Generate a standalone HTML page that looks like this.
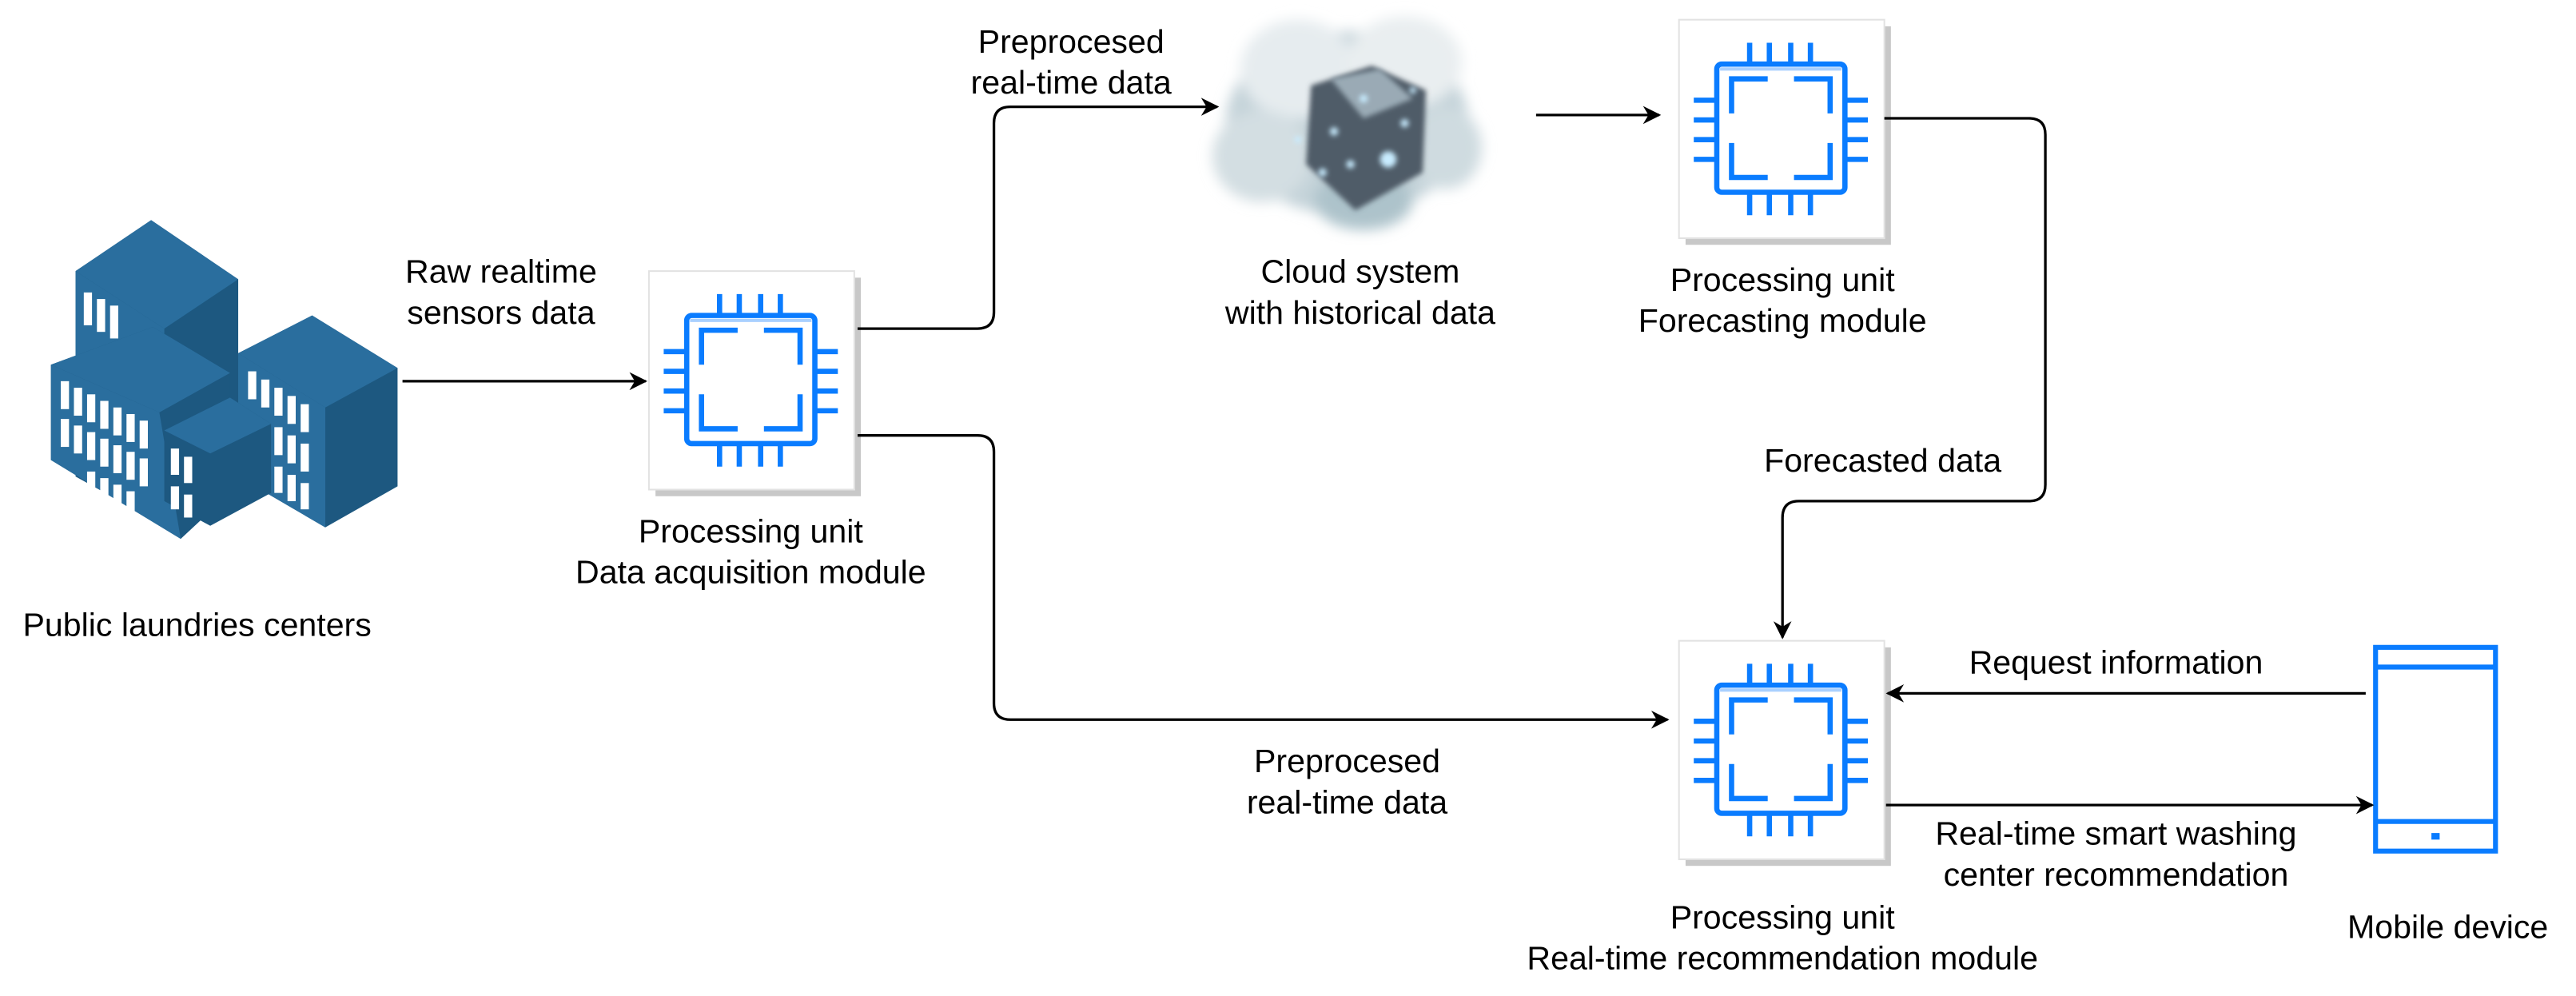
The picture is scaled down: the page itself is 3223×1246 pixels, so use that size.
<!DOCTYPE html>
<html><head><meta charset="utf-8"><style>
html,body{margin:0;padding:0;background:#fff;}
svg{display:block;}
text{font-family:"Liberation Sans",Arial,sans-serif;font-size:20px;fill:#000;}
</style></head><body>
<svg width="3223" height="1246" viewBox="0 0 1568 606.2" preserveAspectRatio="none" xmlns="http://www.w3.org/2000/svg">
<defs>
<marker id="ar" viewBox="0 0 10 10" refX="9" refY="5" markerWidth="11" markerHeight="11" markerUnits="userSpaceOnUse" orient="auto">
<path d="M0,0 L10,5 L0,10 L3,5 z" fill="#000"/>
</marker>
<filter id="bl" x="-20%" y="-20%" width="140%" height="140%"><feGaussianBlur stdDeviation="4"/></filter>
<filter id="bl2"><feGaussianBlur stdDeviation="1.5"/></filter>
<g id="chip">
<rect x="4" y="4" width="125" height="133" fill="#c8c8c8"/>
<rect x="0" y="0" width="125" height="133" fill="#fff" stroke="#e2e2e2" stroke-width="1"/>
<g stroke="#0a7cff" stroke-width="3.2" fill="none">
<rect x="23" y="27" width="78" height="78" rx="3"/>
<path d="M43,14V27M55,14V27M68,14V27M80,14V27M43,105V119M55,105V119M68,105V119M80,105V119M9,49H23M9,61H23M9,73H23M9,85H23M101,49H115M101,61H115M101,73H115M101,85H115"/>
<path d="M32,57V36H54M70,36H92V57M32,75V96H54M70,96H92V75"/>
</g>
<rect x="25" y="29" width="74" height="2" fill="#a9d0ff"/>
</g>
</defs>

<!-- buildings -->
<g>
<polygon points="46,165 92,134 145,170 145,290 100,320 46,290" fill="#1d5880"/>
<polygon points="46,165 92,134 145,170 100,200" fill="#2a6e9e"/>
<polygon points="46,165 100,200 100,300 46,270" fill="#2a6e9e"/>
<polygon points="31,222 93,199 140,227 140,300 110,328 31,280" fill="#1d5880"/>
<polygon points="31,222 93,199 140,227 97,251" fill="#2a6e9e"/>
<polygon points="31,222 97,251 110,328 31,280" fill="#2a6e9e"/>
<polygon points="145,215 190,192 242,224 242,296 198,321 145,290" fill="#1d5880"/>
<polygon points="145,215 190,192 242,224 198,248" fill="#2a6e9e"/>
<polygon points="145,215 198,248 198,321 145,290" fill="#2a6e9e"/>
<polygon points="100,262 140,242 165,258 165,300 128,320 100,305" fill="#1d5880"/>
<polygon points="100,262 140,242 165,258 128,276" fill="#2a6e9e"/>
<g fill="#fff">
<rect x="51" y="178" width="5" height="20"/><rect x="59" y="182" width="5" height="20"/><rect x="67" y="186" width="5" height="20"/>
<rect x="37" y="232" width="5" height="17"/><rect x="45" y="236" width="5" height="17"/><rect x="53" y="240" width="5" height="17"/><rect x="61" y="244" width="5" height="17"/><rect x="69" y="248" width="5" height="17"/><rect x="77" y="252" width="5" height="17"/><rect x="85" y="256" width="5" height="17"/>
<rect x="37" y="255" width="5" height="17"/><rect x="45" y="259" width="5" height="17"/><rect x="53" y="263" width="5" height="17"/><rect x="61" y="267" width="5" height="17"/><rect x="69" y="271" width="5" height="17"/><rect x="77" y="275" width="5" height="17"/><rect x="85" y="279" width="5" height="17"/>
<rect x="53" y="287" width="5" height="16"/><rect x="61" y="291" width="5" height="16"/><rect x="69" y="295" width="5" height="16"/><rect x="77" y="299" width="5" height="16"/>
<rect x="151" y="226" width="5" height="17"/><rect x="159" y="231" width="5" height="17"/><rect x="167" y="236" width="5" height="17"/><rect x="175" y="241" width="5" height="17"/><rect x="183" y="246" width="5" height="17"/>
<rect x="167" y="260" width="5" height="17"/><rect x="175" y="265" width="5" height="17"/><rect x="183" y="270" width="5" height="17"/>
<rect x="167" y="284" width="5" height="16"/><rect x="175" y="289" width="5" height="16"/><rect x="183" y="294" width="5" height="16"/>
<rect x="104" y="273" width="5" height="16"/><rect x="112" y="278" width="5" height="16"/><rect x="104" y="296" width="5" height="14"/><rect x="112" y="301" width="5" height="14"/>
</g>
</g>

<!-- cloud -->
<g>
<g filter="url(#bl)" fill="#c4d3d9">
<ellipse cx="820" cy="75" rx="74" ry="56"/>
<ellipse cx="790" cy="42" rx="35" ry="30" fill="#e6ecef"/>
<ellipse cx="855" cy="38" rx="35" ry="28" fill="#e9eef0"/>
<ellipse cx="768" cy="95" rx="30" ry="28" fill="#d3dee2"/>
<ellipse cx="830" cy="122" rx="30" ry="18" fill="#adc3cb"/>
<ellipse cx="880" cy="90" rx="22" ry="25" fill="#cfdbe0"/>
</g>
<polygon points="798,52 835,40 868,55 866,105 825,128 795,100" fill="#505c68" filter="url(#bl2)"/>
<polygon points="810,48 840,42 860,60 830,72" fill="#9aaab5" filter="url(#bl2)"/>
<g fill="#c8ecff" filter="url(#bl2)">
<circle cx="845" cy="97" r="5"/><circle cx="812" cy="80" r="2.5"/><circle cx="830" cy="60" r="2.5"/><circle cx="855" cy="75" r="2.5"/><circle cx="805" cy="105" r="2.5"/><circle cx="822" cy="100" r="2.5"/><circle cx="790" cy="85" r="2"/><circle cx="860" cy="55" r="2"/>
</g>
</g>

<!-- boxes -->
<use href="#chip" x="395" y="165"/>
<use href="#chip" x="1022" y="12"/>
<use href="#chip" x="1022" y="390"/>

<!-- mobile -->
<g fill="none" stroke="#0a7cff" stroke-width="3">
<rect x="1446" y="394" width="73" height="124"/>
<path d="M1446,406H1519M1446,500H1519"/>
</g>
<rect x="1480" y="507" width="5" height="4" fill="#0a7cff"/>

<!-- connectors -->
<g fill="none" stroke="#000" stroke-width="1.6" marker-end="url(#ar)">
<path d="M245,232 L393,232"/>
<path d="M522,200 L595,200 Q605,200 605,190 L605,75 Q605,65 615,65 L741,65"/>
<path d="M935,70 L1010,70"/>
<path d="M1147,72 L1235,72 Q1245,72 1245,82 L1245,295 Q1245,305 1235,305 L1095,305 Q1085,305 1085,315 L1085,388"/>
<path d="M522,265 L595,265 Q605,265 605,275 L605,428 Q605,438 615,438 L1015,438"/>
<path d="M1440,422 L1149,422"/>
<path d="M1148,490 L1444,490"/>
</g>

<!-- labels -->
<g text-anchor="middle">
<text x="120" y="387">Public laundries centers</text>
<text x="305" y="172">Raw realtime</text>
<text x="305" y="197">sensors data</text>
<text x="457" y="330">Processing unit</text>
<text x="457" y="355">Data acquisition module</text>
<text x="652" y="32">Preprocesed</text>
<text x="652" y="57">real-time data</text>
<text x="828" y="172">Cloud system</text>
<text x="828" y="197">with historical data</text>
<text x="1085" y="177">Processing unit</text>
<text x="1085" y="202">Forecasting module</text>
<text x="1146" y="287">Forecasted data</text>
<text x="820" y="470">Preprocesed</text>
<text x="820" y="495">real-time data</text>
<text x="1288" y="410">Request information</text>
<text x="1288" y="514">Real-time smart washing</text>
<text x="1288" y="539">center recommendation</text>
<text x="1085" y="565">Processing unit</text>
<text x="1085" y="590">Real-time recommendation module</text>
<text x="1490" y="571">Mobile device</text>
</g>
</svg>
</body></html>
